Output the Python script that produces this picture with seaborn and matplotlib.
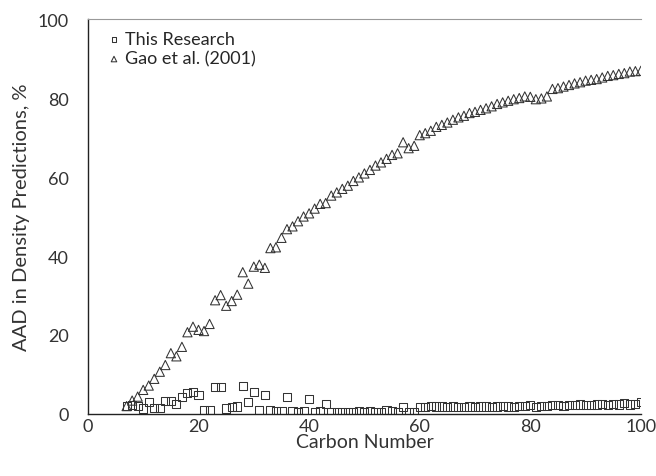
import numpy as np
import pandas as pd
import matplotlib
matplotlib.use("Agg")
import matplotlib.pyplot as plt
import seaborn as sns

# carbon numbers C7..C100
carbon = list(range(7, 101))

# AAD (%) - this research
aad_this = [2.0, 2.2, 2.0, 1.4, 3.0, 1.5, 1.5, 3.2, 3.2, 2.5,
            4.2, 5.3, 5.6, 4.8, 1.1, 1.1, 6.8, 6.8, 1.4, 1.7,
            1.9, 7.0, 3.0, 5.6, 1.0, 4.8, 0.9, 0.7, 0.8, 4.2,
            0.7, 0.6, 0.7, 3.8, 0.6, 0.7, 2.5, 0.4, 0.5, 0.6,
            0.6, 0.5, 0.7, 0.6, 0.8, 0.5, 0.6, 0.9, 0.8, 0.6,
            1.8, 0.6, 0.4, 1.7, 1.8, 2.0, 1.9, 1.9, 1.8, 1.9,
            1.8, 1.8, 1.9, 1.8, 1.9, 1.9, 1.8, 1.9, 2.0, 1.9,
            1.8, 2.1, 2.0, 2.2, 1.8, 2.1, 2.0, 2.2, 2.3, 2.1,
            2.3, 2.2, 2.4, 2.3, 2.2, 2.4, 2.6, 2.3, 2.5, 2.4,
            2.7, 2.4, 2.6, 3.0]

# AAD (%) - Gao et al. (2001)
aad_gao = [2.0, 3.4, 4.4, 6.1, 7.2, 8.9, 10.7, 12.4, 15.4, 14.6,
           17.0, 20.7, 22.1, 21.3, 21.0, 22.8, 28.8, 30.1, 27.4, 28.6,
           30.2, 35.9, 33.0, 37.3, 37.8, 37.0, 42.0, 42.2, 44.6, 46.8,
           47.5, 48.8, 50.0, 50.8, 52.0, 53.2, 53.4, 55.3, 56.1, 57.0,
           57.8, 59.0, 59.9, 60.9, 61.8, 62.9, 63.7, 64.6, 65.6, 66.0,
           68.8, 67.3, 67.9, 70.6, 71.1, 71.7, 72.7, 73.2, 73.8, 74.5,
           75.1, 75.5, 76.2, 76.5, 77.0, 77.4, 77.9, 78.5, 78.9, 79.3,
           79.7, 80.0, 80.4, 80.3, 79.7, 79.9, 80.4, 82.3, 82.5, 82.9,
           83.3, 83.7, 84.0, 84.4, 84.6, 84.8, 85.2, 85.6, 85.8, 86.1,
           86.3, 86.7, 86.8, 86.9]

df = pd.DataFrame({"carbon": carbon, "this": aad_this, "gao": aad_gao})

sns.set_style("white")
plt.rcParams["font.family"] = ["Lato", "DejaVu Sans"]

fig = plt.figure(figsize=(6.56, 4.77), dpi=100)
ax = fig.add_axes([0.134, 0.130, 0.843, 0.828])

sns.scatterplot(data=df, x="carbon", y="this", marker="s", s=34,
                facecolors="none", edgecolor="#333333", linewidth=0.75,
                ax=ax, label="This Research")
sns.scatterplot(data=df, x="carbon", y="gao", marker="^", s=44,
                facecolors="none", edgecolor="#333333", linewidth=0.75,
                ax=ax, label="Gao et al. (2001)")

ax.set_xlim(0, 100)
ax.set_ylim(0, 100)
ax.set_xticks(range(0, 101, 20))
ax.set_yticks(range(0, 101, 20))
ax.set_xlabel("Carbon Number", fontsize=14, color="#333333", labelpad=-1)
ax.set_ylabel("AAD in Density Predictions, %", fontsize=14.5, color="#333333",
              labelpad=5)
ax.tick_params(axis="both", direction="in", length=4, width=0.8,
               color="#888888", labelsize=13, labelcolor="#333333")
ax.tick_params(axis="y", pad=14)
ax.tick_params(axis="x", pad=3)

for side in ["left", "bottom"]:
    ax.spines[side].set_color("#222222")
    ax.spines[side].set_linewidth(1.0)
ax.spines["top"].set_color("#999999")
ax.spines["top"].set_linewidth(0.8)
ax.spines["right"].set_visible(False)

leg = ax.legend(loc="upper left", bbox_to_anchor=(0.008, 0.997), frameon=False,
                fontsize=13, handletextpad=0.0, markerscale=0.6,
                borderaxespad=0.2, labelspacing=0.2, handlelength=1.2)
for h in leg.legend_handles:
    h.set_facecolor("none")
    h.set_edgecolor("#333333")

fig.savefig("out.png", dpi=100)
